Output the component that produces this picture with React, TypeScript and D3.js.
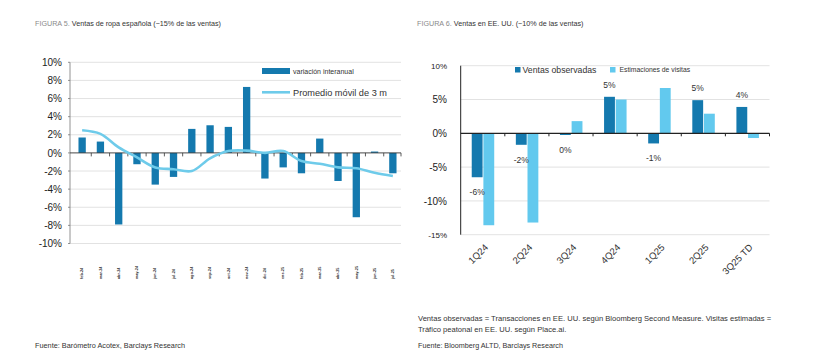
import React from "react";
import * as d3 from "d3";

// ---------- Left chart data (FIGURA 5) ----------
const monthsL = [
  "feb-24", "mar-24", "abr-24", "may-24", "jun-24", "jul-24", "ago-24", "sep-24", "oct-24",
  "nov-24", "dic-24", "ene-25", "feb-25", "mar-25", "abr-25", "may-25", "jun-25", "jul-25",
];
const yoyL = [1.7, 1.25, -7.9, -1.25, -3.5, -2.65, 2.65, 3.05, 2.87, 7.28, -2.83, -1.6, -2.25, 1.58, -3.1, -7.1, 0.15, -2.25];
const mavgL = [2.5, 2.1, 0.6, -0.5, -1.6, -1.8, -2.0, -0.6, 0.2, 0.25, 0.0, 0.2, -0.9, -1.2, -1.6, -1.7, -2.2, -2.55];
const ticksL = [10, 8, 6, 4, 2, 0, -2, -4, -6, -8, -10];

// ---------- Right chart data (FIGURA 6) ----------
const quartersR = ["1Q24", "2Q24", "3Q24", "4Q24", "1Q25", "2Q25", "3Q25 TD"];
const observedR = [-6.5, -1.7, -0.25, 5.4, -1.5, 4.9, 3.9];
const visitsR = [-13.6, -13.2, 1.8, 5.0, 6.7, 2.9, -0.7];
const labelsR = ["-6%", "-2%", "0%", "5%", "-1%", "5%", "4%"];
const ticksR = [10, 5, 0, -5, -10, -15];
const seriesR = ["Ventas observadas", "Estimaciones de visitas"];

const DARK = "#1479ae";
const LIGHT = "#62c9ee";
const LINE = "#6ecbea";
const GRID = "#dadada";
const FONT = "'Liberation Sans', Arial, sans-serif";

function LeftChart() {
  const y = d3.scaleLinear().domain([-10, 10]).range([243.5, 62.3]);
  const x = d3.scaleBand().domain(monthsL).range([73, 402]).paddingInner(0.6).paddingOuter(0.3);
  const bw = x.step();
  const line = d3
    .line<number>()
    .x((_, i) => (x(monthsL[i]) as number) + x.bandwidth() / 2)
    .y((d) => y(d))
    .curve(d3.curveCatmullRom.alpha(0.5));
  const x0 = 70;
  const x1 = 401;
  return (
    <g fontFamily={FONT}>
      <text x={35} y={26} fontSize={7.2}>
        <tspan fill="#8a8a8a">FIGURA 5. </tspan>
        <tspan fill="#333">Ventas de ropa española (~15% de las ventas)</tspan>
      </text>
      {ticksL.map((t) => (
        <g key={t}>
          {t !== 0 && <line x1={x0} x2={x1} y1={y(t)} y2={y(t)} stroke={GRID} strokeWidth={0.8} />}
          <line x1={x0 - 2} x2={x0} y1={y(t)} y2={y(t)} stroke="#777" strokeWidth={0.8} />
          <text x={62} y={y(t) + 3.6} fontSize={10} textAnchor="end" fill="#222">
            {t}%
          </text>
        </g>
      ))}
      <line x1={x0} x2={x0} y1={y(10)} y2={y(-10)} stroke="#777" strokeWidth={0.8} />
      {monthsL.map((m, i) => (
        <rect
          key={m}
          x={x(m)}
          width={x.bandwidth()}
          y={y(Math.max(0, yoyL[i]))}
          height={Math.abs(y(yoyL[i]) - y(0))}
          fill={DARK}
        />
      ))}
      <line x1={x0} x2={x1} y1={y(0)} y2={y(0)} stroke="#333" strokeWidth={0.9} />
      {monthsL.slice(1).map((m) => (
        <line
          key={"t" + m}
          x1={(x(m) as number) - (bw - x.bandwidth()) / 2}
          x2={(x(m) as number) - (bw - x.bandwidth()) / 2}
          y1={y(0)}
          y2={y(0) + 3.5}
          stroke="#333"
          strokeWidth={0.8}
        />
      ))}
      <line x1={x1} x2={x1} y1={y(0)} y2={y(0) + 3.5} stroke="#333" strokeWidth={0.8} />
      <path d={line(mavgL) || ""} fill="none" stroke={LINE} strokeWidth={2.6} />
      {monthsL.map((m) => {
        const cx = (x(m) as number) + x.bandwidth() / 2;
        return (
          <text
            key={"l" + m}
            transform={`translate(${cx + 1.2},279) rotate(-90)`}
            fontSize={3.8}
            fill="#333"
            fontWeight="bold"
          >
            {m}
          </text>
        );
      })}
      {/* legend */}
      <rect x={262} y={68} width={28} height={6} fill={DARK} />
      <text x={293} y={74} fontSize={7} fill="#333">
        variación interanual
      </text>
      <line x1={262} x2={290} y1={92.3} y2={92.3} stroke={LINE} strokeWidth={2.6} />
      <text x={293} y={96} fontSize={9.2} fill="#333">
        Promedio móvil de 3 m
      </text>
      <text x={35} y={347.5} fontSize={7.3} fill="#333">
        Fuente: Barómetro Acotex, Barclays Research
      </text>
    </g>
  );
}

function RightChart() {
  const y = d3.scaleLinear().domain([-15, 10]).range([234.7, 65.7]);
  const x = d3.scaleBand().domain(quartersR).range([460.7, 769.5]);
  const bw = x.bandwidth();
  const xs = d3.scaleBand().domain(seriesR).range([bw * 0.25, bw * 0.76]).paddingInner(0.07);
  const x0 = 460.7;
  const x1 = 769.5;
  const values = [observedR, visitsR];
  const colors = [DARK, LIGHT];
  return (
    <g fontFamily={FONT}>
      <text x={417} y={26} fontSize={7.2}>
        <tspan fill="#8a8a8a">FIGURA 6. </tspan>
        <tspan fill="#333">Ventas en EE. UU. (~10% de las ventas)</tspan>
      </text>
      {ticksR.map((t) => (
        <g key={t}>
          {t !== 0 && <line x1={x0} x2={x1} y1={y(t)} y2={y(t)} stroke={GRID} strokeWidth={0.8} />}
          <text
            x={447}
            y={y(t) + (t === 10 || t === -15 ? 2.8 : 3.6)}
            fontSize={t === 10 || t === -15 ? 8 : 10}
            textAnchor="end"
            fill="#222"
          >
            {t}%
          </text>
        </g>
      ))}
      {values.map((vals, si) =>
        quartersR.map((q, i) => (
          <rect
            key={si + q}
            x={(x(q) as number) + (xs(seriesR[si]) as number)}
            width={xs.bandwidth()}
            y={y(Math.max(0, vals[i]))}
            height={Math.abs(y(vals[i]) - y(0))}
            fill={colors[si]}
          />
        ))
      )}
      <line x1={x0} x2={x0} y1={y(10)} y2={y(-15)} stroke="#222" strokeWidth={1} />
      <line x1={x0} x2={x1} y1={y(0)} y2={y(0)} stroke="#222" strokeWidth={1.2} />
      {quartersR.map((q) => (
        <line
          key={"t" + q}
          x1={(x(q) as number) + bw}
          x2={(x(q) as number) + bw}
          y1={y(0)}
          y2={y(0) + 3}
          stroke="#222"
          strokeWidth={1}
        />
      ))}
      {quartersR.map((q, i) => {
        const cx = (x(q) as number) + (xs(seriesR[0]) as number) + xs.bandwidth() / 2;
        const v = observedR[i];
        const ly = v >= 0 ? y(v) - 9 : y(v) + 18;
        return (
          <text key={"v" + q} x={cx} y={ly} fontSize={8.5} textAnchor="middle" fill="#333">
            {labelsR[i]}
          </text>
        );
      })}
      {quartersR.map((q) => {
        const cx = (x(q) as number) + bw / 2;
        return (
          <text
            key={"q" + q}
            transform={`translate(${cx + 6},${248}) rotate(-45)`}
            fontSize={9.5}
            textAnchor="end"
            fill="#333"
          >
            {q}
          </text>
        );
      })}
      {/* legend */}
      <rect x={515} y={67} width={5.5} height={5.5} fill={DARK} />
      <text x={522.5} y={72.5} fontSize={8.7} fill="#333">
        {seriesR[0]}
      </text>
      <rect x={610} y={67} width={5.5} height={5.5} fill={LIGHT} />
      <text x={619.5} y={72} fontSize={6.8} fill="#333">
        {seriesR[1]}
      </text>
      <text x={418} y={320.5} fontSize={7.6} fill="#333">
        Ventas observadas = Transacciones en EE. UU. según Bloomberg Second Measure. Visitas estimadas =
      </text>
      <text x={418} y={331.5} fontSize={7.6} fill="#333">
        Tráfico peatonal en EE. UU. según Place.ai.
      </text>
      <text x={418} y={347.5} fontSize={7.2} fill="#333">
        Fuente: Bloomberg ALTD, Barclays Research
      </text>
    </g>
  );
}

export default function App() {
  return (
    <svg
      width={825}
      height={360}
      style={{ position: "absolute", left: 0, top: 0, background: "#fff" }}
    >
      <rect width={825} height={360} fill="#fff" />
      <LeftChart />
      <RightChart />
    </svg>
  );
}
